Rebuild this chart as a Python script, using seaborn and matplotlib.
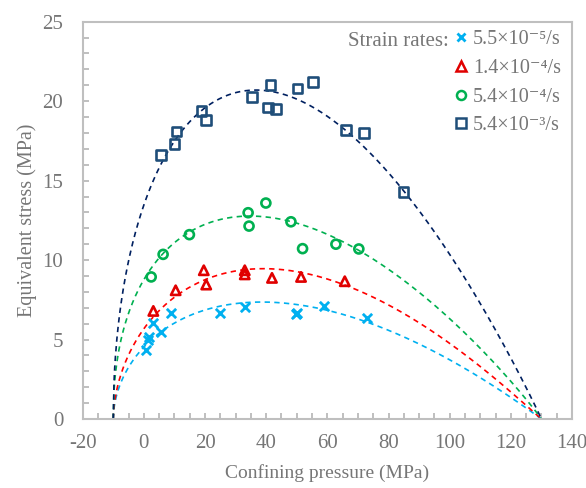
import numpy as np
import pandas as pd
import matplotlib
matplotlib.use("Agg")
import matplotlib.pyplot as plt
import seaborn as sns

# Measured peak states (confining pressure, equivalent stress) per strain rate
p_55e5 = [0.6, 1.2, 1.7, 3.0, 5.5, 9.0, 24.8, 33.0, 49.8, 50.1, 58.9, 73.0]
q_55e5 = [4.33, 5.0, 5.17, 6.07, 5.49, 6.64, 6.68, 7.04, 6.6, 6.7, 7.08, 6.33]

p_14e4 = [3.1, 10.4, 19.6, 20.4, 33.0, 33.0, 41.9, 51.4, 65.7]
q_14e4 = [6.8, 8.1, 9.36, 8.46, 9.36, 9.1, 8.88, 8.94, 8.67]

p_54e4 = [2.4, 6.3, 14.9, 34.1, 34.4, 39.9, 48.1, 51.9, 62.8, 70.3]
q_54e4 = [8.94, 10.36, 11.6, 12.98, 12.14, 13.59, 12.41, 10.72, 11.0, 10.7]

p_54e3 = [5.7, 10.0, 10.7, 18.9, 20.4, 35.4, 40.5, 41.4, 43.2, 50.2, 55.3, 66.2, 71.9, 84.9]
q_54e3 = [16.6, 17.3, 18.1, 19.4, 18.8, 20.25, 19.6, 21.0, 19.5, 20.8, 21.2, 18.2, 18.0, 14.3]

rate_labels = ["5.5×10⁻⁵/s", "1.4×10⁻⁴/s", "5.4×10⁻⁴/s", "5.4×10⁻³/s"]

# Strength envelope q = A (p - pt)^n (pc - p)^m for each strain rate
p_tension = -10.0
p_cap = 130.0
env_n = [0.53, 0.55, 0.45, 0.49]
env_m = [1.00, 1.02, 0.96, 0.98]
env_peak = [7.36, 9.46, 12.77, 20.7]

series = [
    (p_55e5, q_55e5, "x", "#00B0F0", "#00B0F0"),
    (p_14e4, q_14e4, "^", "#E00000", "#FF0000"),
    (p_54e4, q_54e4, "o", "#00B050", "#00B050"),
    (p_54e3, q_54e3, "s", "#1F4E79", "#002060"),
]

sns.set_theme(style="white")
plt.rcParams["font.family"] = ["Liberation Serif", "DejaVu Serif"]
plt.rcParams["axes.unicode_minus"] = False

text_grey = "#767676"
frame_grey = "#BFBFBF"

fig = plt.figure(figsize=(5.86, 4.88), dpi=100)
ax = fig.add_axes([0.1411, 0.1414, 0.8350, 0.8141])

p_grid = np.linspace(p_tension, p_cap, 600)


def envelope(p, n, m, peak):
    p_peak = (n * p_cap + m * p_tension) / (n + m)
    shape = lambda x: np.clip(x - p_tension, 0, None) ** n * np.clip(p_cap - x, 0, None) ** m
    return peak * shape(p) / shape(p_peak)


handles = []
for (p, q, mk, mc, lc), lab, n, m, pk in zip(series, rate_labels, env_n, env_m, env_peak):
    fit_df = pd.DataFrame({"p": p_grid, "q": envelope(p_grid, n, m, pk)})
    sns.lineplot(data=fit_df, x="p", y="q", ax=ax, color=lc, lw=1.2,
                 linestyle=(0, (3.2, 2.6)), legend=False, zorder=2)

    pts = pd.DataFrame({"p": p, "q": q})
    if mk == "x":
        sns.scatterplot(data=pts, x="p", y="q", ax=ax, marker="x", s=45,
                        color=mc, linewidth=2.0, zorder=3, legend=False)
        h = plt.Line2D([], [], ls="none", marker="x", ms=6, mew=2.0, color=mc)
    else:
        size = {"^": 45, "o": 42, "s": 48}[mk]
        sns.scatterplot(data=pts, x="p", y="q", ax=ax, marker=mk, s=size,
                        facecolor="none", edgecolor=mc, linewidth=1.9, zorder=3, legend=False)
        h = plt.Line2D([], [], ls="none", marker=mk, ms=6.5, mew=1.8,
                       mfc="none", mec=mc)
    handles.append((h, lab))

ax.set_xlim(-20, 140)
ax.set_ylim(0, 25)
ax.set_xticks(np.arange(-20, 141, 20))
ax.set_xticks(np.arange(-20, 141, 5), minor=True)
ax.set_yticks(np.arange(0, 26, 5))
ax.set_yticks(np.arange(0, 26, 1), minor=True)
ax.tick_params(which="both", direction="in", color=frame_grey, width=1.4,
               length=4, labelsize=15, labelcolor=text_grey)
ax.tick_params(axis="x", which="both", pad=11, bottom=True)
ax.tick_params(axis="y", which="both", pad=14, left=True)
for s in ax.spines.values():
    s.set_color(frame_grey)
    s.set_linewidth(1.5)
    s.set_visible(True)

ax.set_xlabel("Confining pressure (MPa)", fontsize=14, color=text_grey, labelpad=8)
ax.set_ylabel("Equivalent stress (MPa)", fontsize=14.5, color=text_grey, labelpad=4)

leg = ax.legend([h for h, _ in handles], [l for _, l in handles],
                loc="upper right", bbox_to_anchor=(0.978, 0.979), frameon=False,
                fontsize=14.5, handlelength=0.8, handletextpad=0.2,
                labelspacing=0.48, borderpad=0, borderaxespad=0)
for t in leg.get_texts():
    t.set_color(text_grey)
ax.text(0.7486, 0.951, "Strain rates:", transform=ax.transAxes, ha="right",
        va="center", fontsize=15, color=text_grey)

fig.savefig("out.png", dpi=100)
